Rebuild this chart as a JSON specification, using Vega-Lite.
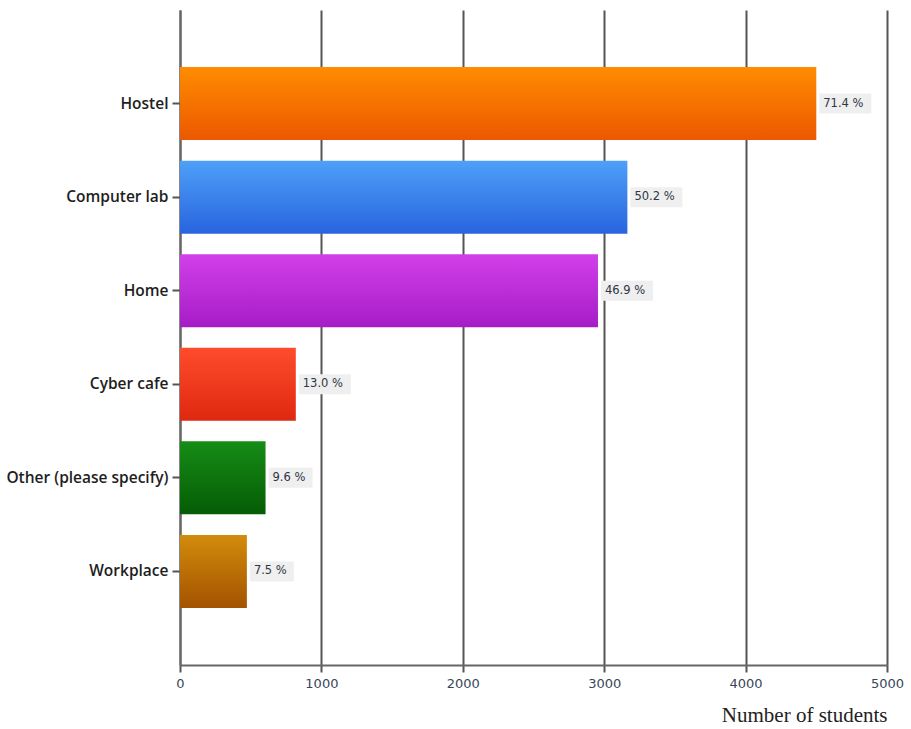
{
  "$schema": "https://vega.github.io/schema/vega-lite/v6.json",
  "width": 707,
  "height": 655,
  "autosize": {"type": "none"},
  "padding": {"left": 180, "top": 10, "right": 24, "bottom": 64},
  "background": "white",
  "config": {"view": {"stroke": null}},
  "data": {
    "values": [
      {"location": "Hostel", "students": 4500, "pct": "71.4 %"},
      {"location": "Computer lab", "students": 3164, "pct": "50.2 %"},
      {"location": "Home", "students": 2956, "pct": "46.9 %"},
      {"location": "Cyber cafe", "students": 819, "pct": "13.0 %"},
      {"location": "Other (please specify)", "students": 605, "pct": "9.6 %"},
      {"location": "Workplace", "students": 473, "pct": "7.5 %"}
    ]
  },
  "encoding": {
    "y": {
      "field": "location",
      "type": "nominal",
      "sort": null,
      "scale": {
        "domain": ["Hostel", "Computer lab", "Home", "Cyber cafe", "Other (please specify)", "Workplace"],
        "paddingInner": 0.22,
        "paddingOuter": 0.61
      },
      "axis": {
        "title": null,
        "domain": true,
        "domainColor": "#666666",
        "domainWidth": 2,
        "ticks": true,
        "tickColor": "#555555",
        "tickWidth": 2,
        "tickSize": 8,
        "labelFont": "Open Sans",
        "labelFontWeight": 600,
        "labelFontSize": 15.5,
        "labelColor": "#1e1e1e",
        "labelPadding": 4,
        "grid": false
      }
    },
    "x": {
      "field": "students",
      "type": "quantitative",
      "scale": {"domain": [0, 5000], "nice": false},
      "axis": {
        "title": "Number of students",
        "titleFont": "Liberation Serif",
        "titleFontSize": 21,
        "titleFontWeight": "normal",
        "titleColor": "#222222",
        "titleAnchor": "end",
        "titlePadding": 14,
        "values": [0, 1000, 2000, 3000, 4000, 5000],
        "format": "d",
        "labelFlush": false,
        "grid": true,
        "gridColor": "#555555",
        "gridWidth": 2,
        "domainColor": "#666666",
        "domainWidth": 2,
        "tickColor": "#555555",
        "tickWidth": 2,
        "tickSize": 7,
        "labelFont": "DejaVu Sans",
        "labelFontSize": 13,
        "labelColor": "#3a4658",
        "labelPadding": 5
      }
    }
  },
  "layer": [
    {
      "transform": [{"filter": "datum.location === 'Hostel'"}],
      "mark": {"type": "bar", "color": {"gradient": "linear", "x1": 0, "y1": 0, "x2": 0, "y2": 1, "stops": [{"offset": 0, "color": "#ff8c00"}, {"offset": 1, "color": "#ec5800"}]}}
    },
    {
      "transform": [{"filter": "datum.location === 'Computer lab'"}],
      "mark": {"type": "bar", "color": {"gradient": "linear", "x1": 0, "y1": 0, "x2": 0, "y2": 1, "stops": [{"offset": 0, "color": "#4ea0f8"}, {"offset": 1, "color": "#2864df"}]}}
    },
    {
      "transform": [{"filter": "datum.location === 'Home'"}],
      "mark": {"type": "bar", "color": {"gradient": "linear", "x1": 0, "y1": 0, "x2": 0, "y2": 1, "stops": [{"offset": 0, "color": "#d240ea"}, {"offset": 1, "color": "#a51cc6"}]}}
    },
    {
      "transform": [{"filter": "datum.location === 'Cyber cafe'"}],
      "mark": {"type": "bar", "color": {"gradient": "linear", "x1": 0, "y1": 0, "x2": 0, "y2": 1, "stops": [{"offset": 0, "color": "#ff4c2c"}, {"offset": 1, "color": "#de2810"}]}}
    },
    {
      "transform": [{"filter": "datum.location === 'Other (please specify)'"}],
      "mark": {"type": "bar", "color": {"gradient": "linear", "x1": 0, "y1": 0, "x2": 0, "y2": 1, "stops": [{"offset": 0, "color": "#168c16"}, {"offset": 1, "color": "#055c05"}]}}
    },
    {
      "transform": [{"filter": "datum.location === 'Workplace'"}],
      "mark": {"type": "bar", "color": {"gradient": "linear", "x1": 0, "y1": 0, "x2": 0, "y2": 1, "stops": [{"offset": 0, "color": "#d28c0c"}, {"offset": 1, "color": "#a45200"}]}}
    },
    {
      "transform": [{"filter": "datum.students >= 700"}],
      "mark": {"type": "bar", "color": "#efefef", "height": 20, "xOffset": 3, "x2Offset": 55},
      "encoding": {"x2": {"field": "students"}}
    },
    {
      "transform": [{"filter": "datum.students < 700"}],
      "mark": {"type": "bar", "color": "#efefef", "height": 20, "xOffset": 3, "x2Offset": 47},
      "encoding": {"x2": {"field": "students"}}
    },
    {
      "mark": {"type": "text", "align": "left", "baseline": "middle", "dx": 7, "font": "DejaVu Sans", "fontSize": 11.5, "color": "#2e3544"},
      "encoding": {"text": {"field": "pct"}}
    }
  ]
}
